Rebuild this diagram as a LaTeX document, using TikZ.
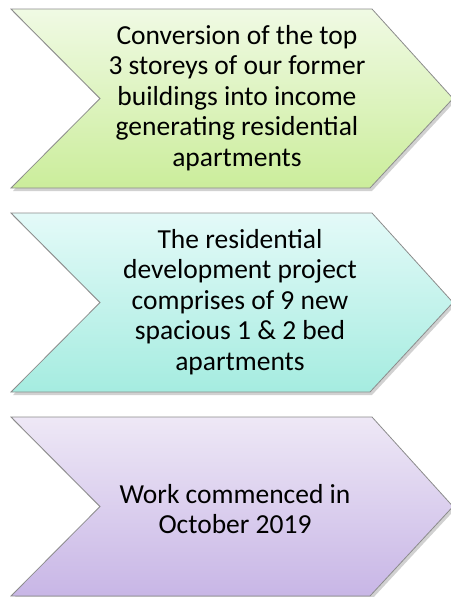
\documentclass[tikz,border=0pt]{standalone}
\usepackage{fontspec}
\setmainfont{Carlito}
\definecolor{gAtop}{RGB}{240,250,228}
\definecolor{gAbot}{RGB}{203,237,155}
\definecolor{gBtop}{RGB}{228,250,248}
\definecolor{gBbot}{RGB}{165,236,224}
\definecolor{gCtop}{RGB}{238,232,246}
\definecolor{gCbot}{RGB}{200,182,230}
\definecolor{edgegray}{RGB}{140,140,140}
\begin{document}
\begin{tikzpicture}[x=1pt,y=-1pt,
  chev/.style={draw=edgegray, line width=0.8pt},
  shad/.style={fill=black, opacity=0.18},
  lbl/.style={align=center, font=\fontsize{27.5}{30.5}\selectfont, text=black, inner sep=0pt}]
\useasboundingbox (0,0) rectangle (450,597);
% shadows
\fill[shad] (13,12) -- (374,12) -- (455,101.5) -- (372,191) -- (13,191) -- (102,101.5) -- cycle;
\fill[shad] (13,216) -- (374,216) -- (455,305.5) -- (372,395) -- (13,395) -- (102,305.5) -- cycle;
\fill[shad] (13,420) -- (374,420) -- (455,509.5) -- (372,599) -- (13,599) -- (102,509.5) -- cycle;
% chevrons
\path[chev, top color=gAtop, bottom color=gAbot] (11,9) -- (372,9) -- (453,98.5) -- (370,188) -- (11,188) -- (100,98.5) -- cycle;
\path[chev, top color=gBtop, bottom color=gBbot] (11,213) -- (372,213) -- (453,302.5) -- (370,392) -- (11,392) -- (100,302.5) -- cycle;
\path[chev, top color=gCtop, bottom color=gCbot] (11,417) -- (372,417) -- (453,506.5) -- (370,596) -- (11,596) -- (100,506.5) -- cycle;
% labels
\node[lbl] (t1) at (237,98) {Conversion of the top\\3 storeys of our former\\buildings into income\\generating residential\\apartments};
\node[lbl] (t2) at (240,302) {The residential\\development project\\comprises of 9 new\\spacious 1 \& 2 bed\\apartments};
\node[lbl] (t3) at (235,509) {Work commenced in\\October 2019};
\end{tikzpicture}
\end{document}
